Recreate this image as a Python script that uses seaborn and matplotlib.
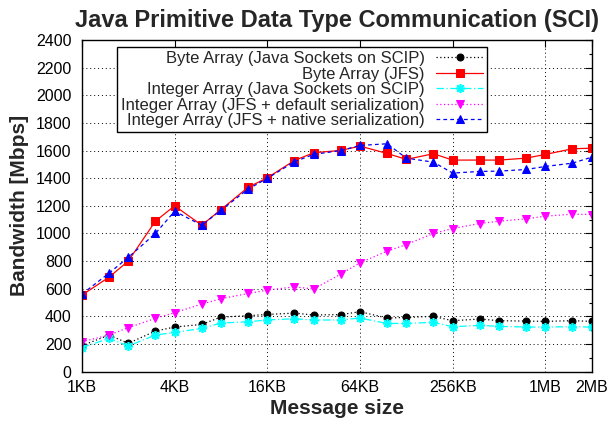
import numpy as np
import pandas as pd
import matplotlib
matplotlib.use("Agg")
import matplotlib.pyplot as plt
import matplotlib.ticker as mticker
import seaborn as sns

# message sizes in KB
sizes_kb = [1, 1.5, 2, 3, 4, 6, 8, 12, 16, 24, 32, 48, 64, 96, 128, 192, 256,
            384, 512, 768, 1024, 1536, 2048]

byte_sockets = [188, 265, 205, 294, 323, 342, 395, 405, 414, 424, 410, 413, 434,
                388, 393, 400, 369, 381, 369, 366, 364, 369, 364]
byte_jfs = [554, 684, 800, 1089, 1200, 1060, 1173, 1334, 1403, 1528, 1584, 1601,
            1632, 1579, 1536, 1577, 1531, 1531, 1531, 1545, 1572, 1613, 1617]
int_sockets = [174, 241, 186, 265, 284, 313, 352, 361, 374, 383, 374, 374, 388,
               349, 349, 357, 325, 335, 328, 323, 323, 325, 323]
int_jfs_default = [217, 265, 318, 386, 427, 489, 528, 566, 590, 614, 598, 706,
                   788, 872, 920, 1000, 1036, 1072, 1089, 1106, 1125, 1140, 1137]
int_jfs_native = [561, 713, 827, 1000, 1161, 1060, 1168, 1321, 1399, 1519, 1572,
                  1600, 1637, 1649, 1545, 1516, 1437, 1449, 1451, 1463, 1485,
                  1509, 1552]

series_names = ["Byte Array (Java Sockets on SCIP)",
                "Byte Array (JFS)",
                "Integer Array (Java Sockets on SCIP)",
                "Integer Array (JFS + default serialization)",
                "Integer Array (JFS + native serialization)"]
series_values = [byte_sockets, byte_jfs, int_sockets, int_jfs_default, int_jfs_native]

xtick_vals = [1, 4, 16, 64, 256, 1024, 2048]
xtick_labels = ["1KB", "4KB", "16KB", "64KB", "256KB", "1MB", "2MB"]

title = "Java Primitive Data Type Communication (SCI)"
xlabel = "Message size"
ylabel = "Bandwidth [Mbps]"

sns.set_style("white")
plt.rcParams["font.family"] = ["Liberation Sans", "DejaVu Sans"]

styles = [
    dict(color="black", linestyle=(0, (1, 2)), marker="o", markersize=5),
    dict(color="red", linestyle="-", marker="s", markersize=5.3),
    dict(color="cyan", linestyle=(0, (6, 2, 1, 2)), marker=(8, 2, 0), markersize=6.5,
         markeredgewidth=1.2),
    dict(color="magenta", linestyle=(0, (1, 2)), marker="v", markersize=5.5),
    dict(color="blue", linestyle=(0, (3, 2.5)), marker="^", markersize=5.5),
]

fig = plt.figure(figsize=(6.16, 4.29), dpi=100)
ax = fig.add_axes([0.133, 0.1336, 0.8276, 0.7732])

for name, vals, st in zip(series_names, series_values, styles):
    df = pd.DataFrame({"size": sizes_kb, "bw": vals})
    sns.lineplot(data=df, x="size", y="bw", ax=ax, label=name,
                 linewidth=0.9, markeredgecolor=st["color"], **st)

ax.set_xscale("log", base=2)
ax.set_xlim(1, 2048)
ax.set_ylim(0, 2400)
ax.set_xticks(xtick_vals)
ax.set_xticklabels(xtick_labels)
ax.xaxis.set_minor_locator(mticker.NullLocator())
ax.set_yticks(np.arange(0, 2401, 200))
ax.yaxis.set_minor_locator(mticker.MultipleLocator(100))

ax.tick_params(axis="both", which="both", direction="in", top=True, right=True,
               labelsize=11.5, colors="black")
ax.tick_params(axis="x", which="major", pad=6)
ax.tick_params(axis="y", which="major", pad=7.5)
ax.tick_params(which="major", length=5, width=0.8)
ax.tick_params(which="minor", length=2.5, width=0.8)

ax.grid(True, which="major", color="black", linestyle=(0, (1, 3)), linewidth=0.7)
for sp in ax.spines.values():
    sp.set_color("black")
    sp.set_linewidth(1.0)

ax.set_title(title, fontsize=17, fontweight="bold", pad=9)
ax.set_xlabel(xlabel, fontsize=15, fontweight="bold", labelpad=3)
ax.set_ylabel(ylabel, fontsize=15, fontweight="bold", labelpad=5)

leg = ax.legend(loc="upper right", bbox_to_anchor=(0.7946, 0.979), borderaxespad=0,
                markerfirst=False, fontsize=12, frameon=True, fancybox=False,
                edgecolor="black", framealpha=1, handlelength=2.8,
                labelspacing=0.03, borderpad=0.25, handletextpad=0.7)
leg.get_frame().set_linewidth(1.0)

fig.savefig("out.png", dpi=100)
